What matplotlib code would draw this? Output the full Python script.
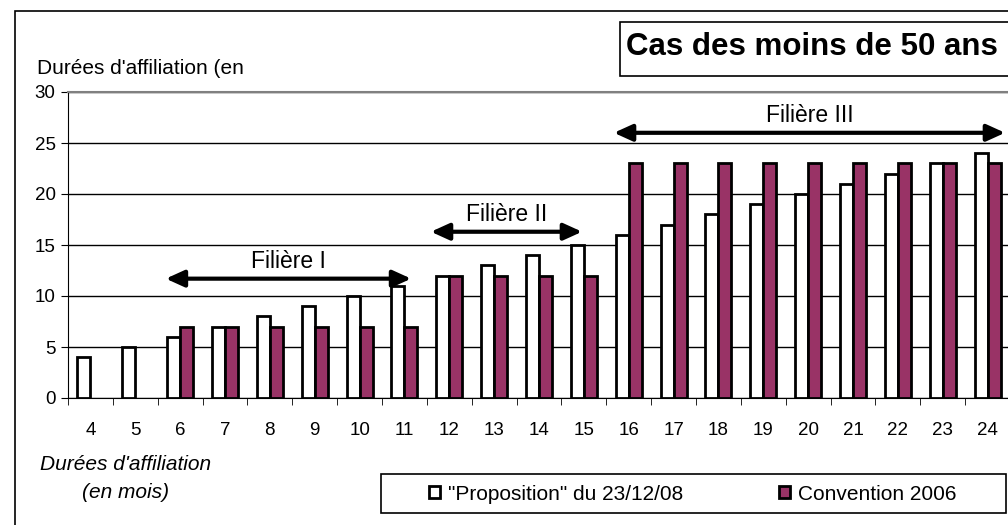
import matplotlib
matplotlib.use("Agg")
import matplotlib.pyplot as plt
from matplotlib.patches import Rectangle
import numpy as np

plt.rcParams["font.family"] = ["Liberation Sans", "DejaVu Sans"]

mois = ["4", "5", "6", "7", "8", "9", "10", "11", "12", "13", "14",
        "15", "16", "17", "18", "19", "20", "21", "22", "23", "24"]
proposition = [4, 5, 6, 7, 8, 9, 10, 11, 12, 13, 14,
               15, 16, 17, 18, 19, 20, 21, 22, 23, 24]
convention = [0, 0, 7, 7, 7, 7, 7, 7, 12, 12, 12,
              12, 23, 23, 23, 23, 23, 23, 23, 23, 23]

# filières: (start idx, end idx, arrow height, label)
filieres = [(1.68, 7.15, 11.7, "Filière I"),
            (7.59, 10.96, 16.3, "Filière II"),
            (11.67, 20.39, 26.0, "Filière III")]

W, H = 1008, 525
fig = plt.figure(figsize=(W / 100, H / 100), dpi=100)

# outer chart border (goes past the right/bottom edge)
fig.patches.append(Rectangle((15 / W, -0.1), 1.2, 1 - 10.5 / H + 0.1,
                             transform=fig.transFigure, fill=False,
                             edgecolor="black", linewidth=1.2))

ax = fig.add_axes([68 / W, 1 - 398 / H, (1010 - 68) / W, (398 - 92) / H])

x = np.arange(len(mois))
bw = 0.29
prop = np.array(proposition)
conv = np.array(convention)
ax.bar(x[prop > 0] - bw / 2, prop[prop > 0], bw, color="white",
       edgecolor="black", linewidth=2, label='"Proposition" du 23/12/08',
       zorder=3)
ax.bar(x[conv > 0] + bw / 2, conv[conv > 0], bw, color="#993366",
       edgecolor="black", linewidth=2, label="Convention 2006", zorder=3)

ax.set_xlim(-0.5, len(mois) - 0.5)
ax.set_ylim(0, 30)
ax.set_yticks(range(0, 31, 5))
ax.yaxis.grid(True, color="black", linewidth=1)
ax.set_axisbelow(True)
ax.tick_params(axis="y", labelsize=13.5, length=5, direction="out", pad=4)

ax.set_xticks(x)
ax.set_xticklabels(mois)
ax.set_xticks(np.arange(-0.5, len(mois), 1), minor=True)
ax.tick_params(axis="x", which="major", length=0, pad=17, labelsize=13.5)
ax.tick_params(axis="x", which="minor", length=5, direction="out")

ax.spines["top"].set_color("#808080")
ax.spines["right"].set_color("#808080")
ax.spines["top"].set_linewidth(1.5)

for x0, x1, yv, label in filieres:
    ax.annotate("", xy=(x1, yv), xytext=(x0, yv),
                arrowprops=dict(arrowstyle="<|-|>,head_length=1.1,head_width=0.5",
                                color="black", lw=3, shrinkA=0, shrinkB=0),
                zorder=5)
    ax.text((x0 + x1) / 2, yv + 1.65, label, ha="center", va="center",
            fontsize=16.5)

fig.text(37 / W, 1 - 68 / H, "Durées d'affiliation (en", fontsize=15,
         ha="left", va="center")
fig.text(126 / W, 1 - 465 / H, "Durées d'affiliation", fontsize=15,
         style="italic", ha="center", va="center")
fig.text(126 / W, 1 - 492 / H, "(en mois)", fontsize=15,
         style="italic", ha="center", va="center")

# title box (runs past the right edge)
fig.patches.append(Rectangle((620 / W, 1 - 76 / H), 400 / W, 54 / H,
                             transform=fig.transFigure, facecolor="white",
                             edgecolor="black", linewidth=1.2))
fig.text(626 / W, 1 - 47 / H, "Cas des moins de 50 ans", fontsize=22.5,
         fontweight="bold", ha="left", va="center")

# legend box
fig.patches.append(Rectangle((381 / W, 1 - 513 / H), (1006 - 381) / W, 39 / H,
                             transform=fig.transFigure, facecolor="white",
                             edgecolor="black", linewidth=1.2))
fig.legend(loc="center left", bbox_to_anchor=(429 / W, 1 - 494 / H),
           ncol=2, fontsize=15, frameon=False, handlelength=0.55,
           handleheight=0.55, handletextpad=0.35, columnspacing=4.6,
           borderpad=0, borderaxespad=0)

fig.savefig("out.png", dpi=100)
